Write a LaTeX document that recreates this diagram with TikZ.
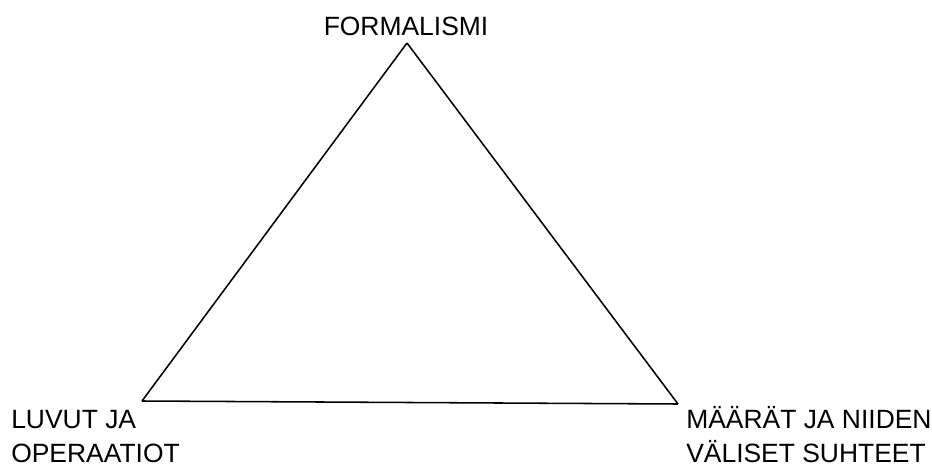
\documentclass[tikz,border=0pt]{standalone}
\usepackage{fontspec}
\setmainfont{Liberation Sans}
\usetikzlibrary{positioning, calc}
\definecolor{Ink}{HTML}{000000}
\tikzset{
    cornerlabel/.style={inner sep=0pt, align=left, text=Ink, font=\fontsize{18.8}{23.5}\selectfont},
    edge/.style={draw=Ink, line width=1.1pt},
}
\begin{document}
\begin{tikzpicture}[x=0.025cm, y=-0.025cm]
    \useasboundingbox (0,0) rectangle (932,466);

    % --- Vertices ---
    \coordinate (form) at (407,43);
    \coordinate (luvut) at (142,401);
    \coordinate (maarat) at (678,404);

    % --- Triangle ---
    \draw[edge] (form) -- (luvut);
    \draw[edge] (luvut) -- (maarat);
    \draw[edge] (maarat) -- (form);

    % --- Labels ---
    \node[cornerlabel, anchor=base] (formlabel) at (406,36) {FORMALISMI};
    \node[cornerlabel, anchor=base west] (luvutlabel) at (11,462) {LUVUT JA\\OPERAATIOT};
    \node[cornerlabel, anchor=base west] (maaratlabel) at (686,462) {MÄÄRÄT JA NIIDEN\\VÄLISET SUHTEET};
\end{tikzpicture}
\end{document}
